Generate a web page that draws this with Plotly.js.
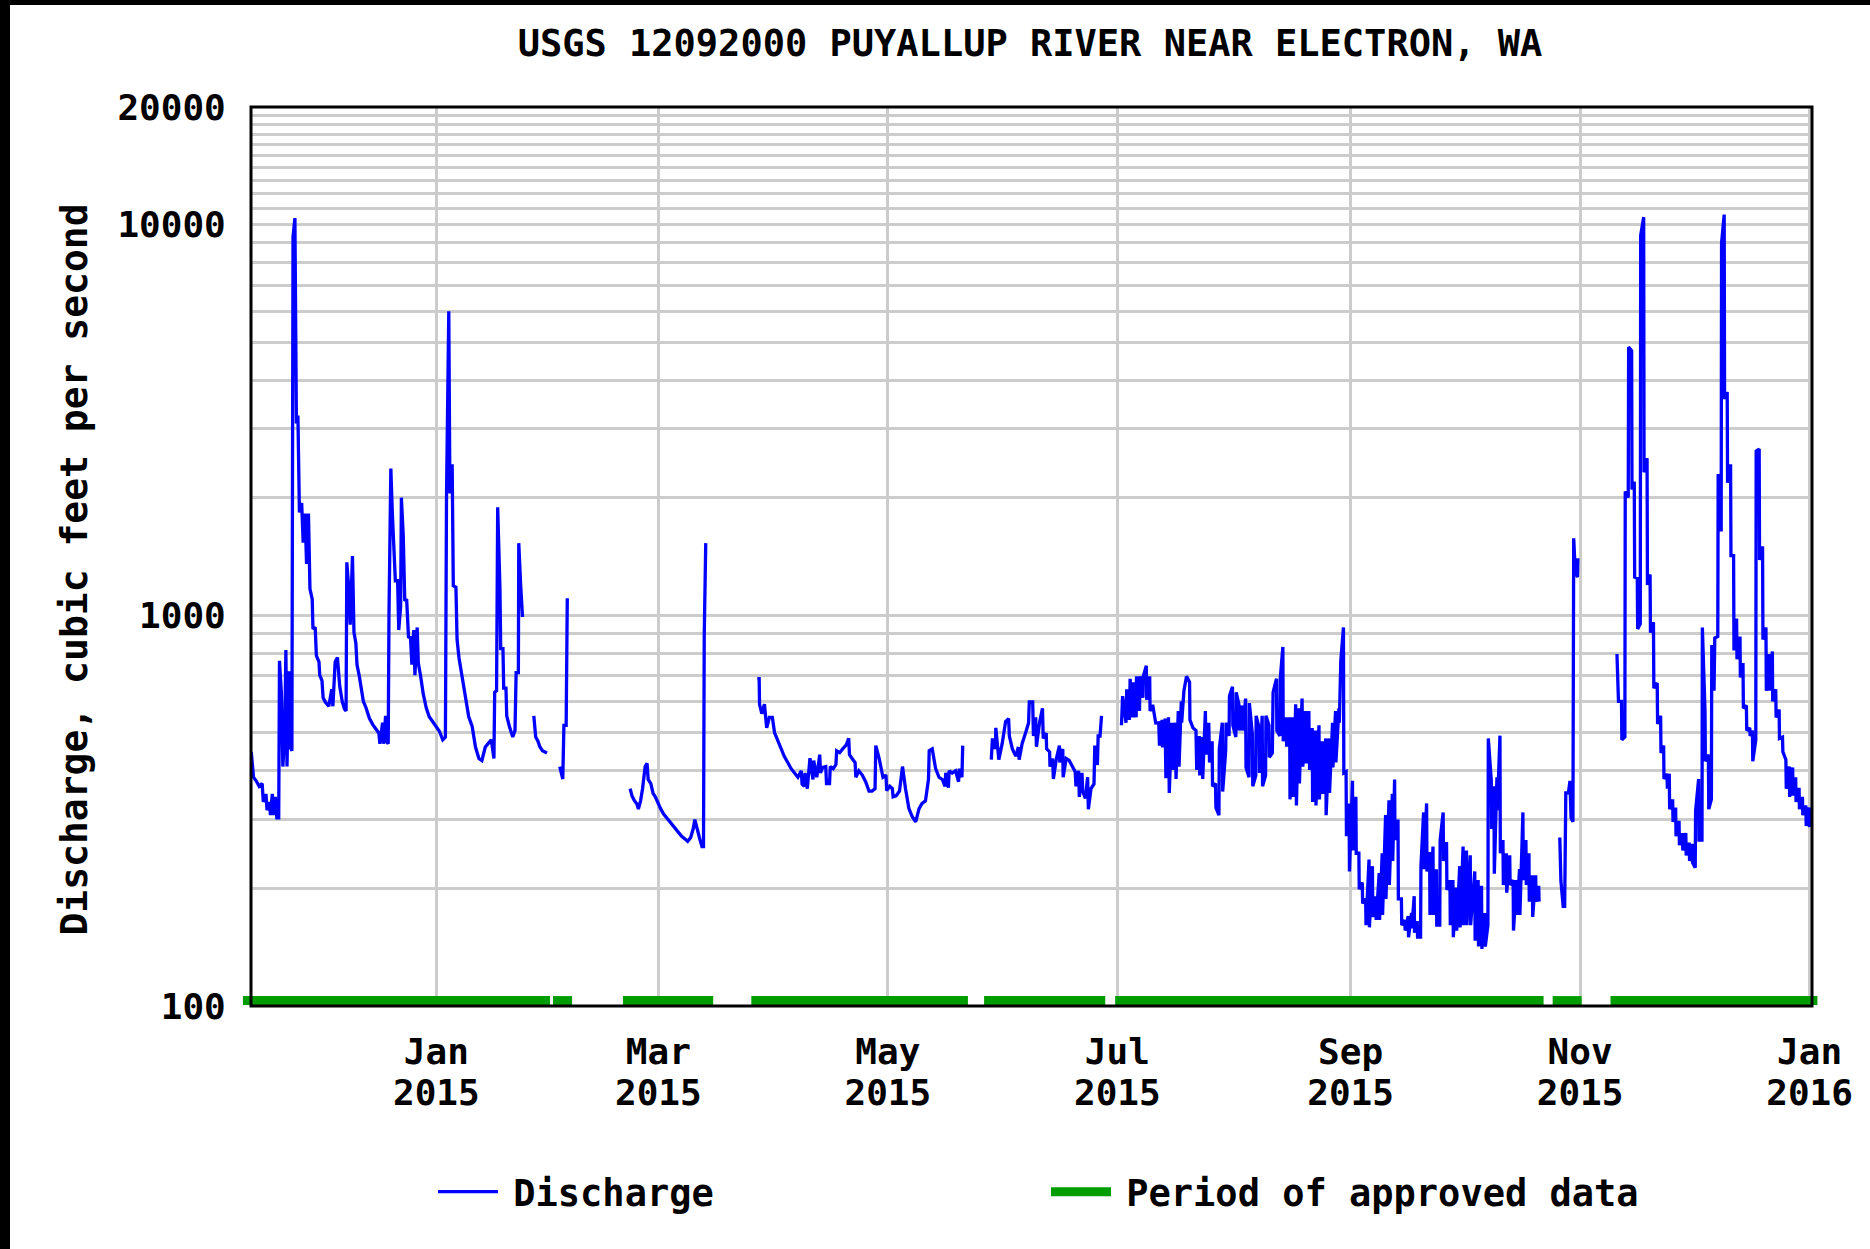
<!DOCTYPE html>
<html>
<head>
<meta charset="utf-8">
<script src="https://cdn.plot.ly/plotly-3.0.1.min.js"></script>
<style>
html, body { margin:0; padding:0; background:#000; overflow:hidden; width:1870px; height:1249px; }
#frame { position:absolute; left:10px; top:5px; width:1860px; height:1244px; background:#fff; }
#chart { width:1860px; height:1244px; }
</style>
</head>
<body>
<div id="frame"><div id="chart"></div></div>
<script>
// ---------- DATA (day offset from 2015-01-01, discharge in cubic feet per second) ----------
const segNovJan = [[-49.2,447],[-48.6,385],[-47.9,377],[-47.1,365],[-46.3,371],[-46.0,333],[-45.3,349],[-45.0,317],
 [-44.4,333],[-44.1,308],[-43.6,349],[-43.3,308],[-42.8,343],[-42.4,303],[-41.9,303],[-41.7,765],[-41.2,635],[-40.8,410],
 [-40.3,500],[-40.0,815],[-39.7,410],[-39.2,719],[-38.9,461],[-38.4,450],[-38.1,9287],[-37.6,10390],[-37.2,3096],
 [-36.8,3244],[-36.4,1833],[-35.8,1939],[-35.4,1535],[-34.9,1822],[-34.5,1354],[-34.0,1822],[-33.6,1169],[-33.0,1100],
 [-32.8,923],[-32.2,931],[-31.9,789],[-31.2,760],[-31.0,703],[-30.4,680],[-30.1,615],[-29.5,600],[-28.6,585],[-27.8,647],
 [-27.5,585],[-26.9,760],[-26.3,780],[-25.7,660],[-25.0,600],[-24.4,575],[-24.0,569],[-23.8,1367],[-23.3,1177],[-22.9,946],
 [-22.3,1419],[-21.9,903],[-21.4,850],[-21.1,748],[-20.5,700],[-19.9,640],[-19.4,602],[-18.7,580],[-17.8,545],[-16.9,525],
 [-16.0,510],[-15.3,500],[-15.0,469],[-14.3,531],[-14.0,469],[-13.5,553],[-13.2,476],[-12.8,469],[-12.6,988],[-12.1,2375],
 [-11.7,1822],[-11.2,1500],[-10.9,1226],[-10.3,1226],[-10.0,917],[-9.5,1050],[-9.3,2000],[-8.8,1593],[-8.4,1089],[-7.9,1100],
 [-7.4,875],[-6.9,883],[-6.5,748],[-6.0,917],[-5.7,703],[-5.1,931],[-4.8,755],[-4.2,700],[-3.5,630],[-2.7,580],[-1.9,550],
 [-1.0,535],[-0.1,520],[0.8,505],[1.7,480],[2.4,488],[2.7,2032],[3.3,6000],[3.6,2051],[4.2,2436],[4.5,1190],[5.2,1180],
 [5.5,867],[6.0,780],[6.8,700],[7.7,620],[8.6,550],[9.5,520],[10.4,460],[11.3,430],[12.1,425],[13.0,460],[13.8,470],
 [14.6,480],[15.3,430],[15.5,635],[16.0,641],[16.3,1891],[16.9,1169],[17.1,822],[17.7,822],[17.9,651],[18.5,651],[18.7,553],
 [19.4,520],[20.3,488],[20.9,507],[21.2,713],[21.8,713],[21.9,1530],[22.4,1196],[22.9,990]];
const segLateJan = [[25.9,553],[26.4,488],[27.0,476],[27.5,461],[28.2,450],[29.4,444]];
const segEarlyFeb = [[32.8,410],[33.1,395],[33.6,381],[33.9,523],[34.5,523],[34.8,1106]];
const segFebMar = [[51.5,360],[52.0,345],[52.6,336],[53.3,329],[53.7,319],[54.3,336],[54.8,360],[55.5,410],[56.0,418],
 [56.3,380],[57.0,371],[57.6,350],[58.2,343],[58.9,330],[59.6,320],[60.4,310],[61.2,303],[62.0,298],[62.8,290],[63.6,284],
 [64.4,278],[65.2,272],[66.0,268],[66.8,264],[67.6,270],[68.3,285],[68.7,300],[69.3,282],[70.0,268],[70.6,256],[71.0,256],
 [71.2,889],[71.6,1530]];
const segAprMay = [[85.3,688],[85.8,688],[85.9,592],[86.5,560],[87.2,592],[87.8,515],[88.5,548],[89.3,548],[89.9,500],
 [90.8,475],[91.6,455],[92.5,435],[93.4,420],[94.3,405],[95.2,395],[96.1,385],[97.0,400],[97.2,370],[97.8,365],[98.0,395],
 [98.6,360],[98.9,385],[99.3,431],[100.1,380],[100.3,425],[101.1,385],[101.9,440],[102.1,395],[102.7,408],[103.5,410],
 [103.7,371],[104.5,371],[104.7,410],[105.5,405],[106.2,415],[106.4,450],[107.2,445],[108.0,455],[108.9,465],[109.6,484],
 [109.8,440],[110.5,430],[111.3,420],[111.5,385],[112.3,400],[113.2,390],[114.1,375],[115.0,355],[115.8,355],[116.6,360],
 [116.8,464],[117.7,430],[118.7,385],[119.5,390],[119.7,356],[120.5,365],[121.2,360],[121.4,343],[122.2,345],[123.1,355],
 [123.9,410],[124.7,360],[125.6,320],[126.5,305],[127.4,296],[128.3,320],[129.1,330],[130.0,335],[130.8,380],[131.0,450],
 [131.8,455],[132.7,405],[133.6,385],[134.5,380],[135.2,365],[135.4,395],[136.1,362],[136.3,400],[137.1,395],[138.0,400],
 [138.8,375],[139.0,405],[139.7,385],[139.9,464]];
const segJune = [[147.5,427],[147.8,484],[148.6,455],[148.7,515],[149.5,427],[150.4,470],[151.3,535],[152.1,544],[152.3,491],
 [153.1,455],[154.0,436],[154.7,460],[154.9,427],[155.7,470],[156.6,500],[157.4,530],[157.6,600],[158.5,600],[158.7,491],
 [159.3,548],[159.5,461],[160.3,530],[161.1,578],[161.3,484],[162.1,500],[162.2,455],[163.0,447],[163.1,410],[163.8,430],
 [164.0,381],[164.8,430],[165.6,464],[165.7,420],[166.5,455],[166.6,385],[167.4,430],[168.2,425],[169.0,410],[169.8,398],
 [170.0,365],[170.7,400],[170.9,343],[171.6,395],[171.8,354],[172.5,340],[173.1,385],[173.3,319],[174.0,360],[174.8,370],
 [175.0,464],[175.7,414],[175.9,491],[176.4,491],[176.8,553]];
const segJulOct = [[182.1,523],[182.4,621],[183.3,531],[183.5,647],[184.2,540],[184.4,688],[185.1,548],[185.3,674],[186.0,548],
 [186.1,698],[186.9,569],[187.0,698],[187.8,615],[187.9,698],[188.7,743],[188.8,608],[189.6,698],[189.7,569],[190.4,590],
 [191.2,530],[192.0,531],[192.2,464],[192.9,540],[193.0,459],[193.7,544],[193.9,383],[194.6,548],[194.8,351],[195.5,531],
 [195.7,402],[196.4,531],[196.6,381],[197.2,569],[197.4,410],[198.0,602],[198.1,531],[198.7,641],[199.4,698],[200.2,674],
 [200.3,540],[201.1,515],[201.9,507],[202.1,402],[202.8,491],[202.9,389],[203.5,488],[203.7,381],[204.4,569],[204.6,440],
 [205.3,531],[205.5,420],[206.2,476],[206.3,365],[207.1,371],[207.2,322],[208.0,308],[208.1,455],[208.9,531],[209.0,354],
 [209.8,450],[209.9,531],[210.7,491],[210.8,621],[211.6,656],[211.7,523],[212.5,488],[212.6,635],[213.3,592],[213.4,507],
 [214.2,588],[214.3,507],[215.1,612],[215.2,408],[216.0,385],[216.1,596],[216.9,495],[217.0,365],[217.8,389],[217.9,553],
 [218.7,515],[218.8,395],[219.5,553],[219.6,365],[220.4,389],[220.5,553],[221.3,523],[221.4,433],[222.2,444],[222.4,635],
 [223.3,688],[223.4,507],[224.2,491],[224.3,688],[225.0,830],[225.1,476],[225.9,548],[226.0,461],[226.8,548],[226.9,338],
 [227.6,548],[227.8,343],[228.4,592],[228.6,326],[229.2,578],[229.4,371],[230.1,612],[230.3,410],[231.0,569],[231.2,418],
 [231.9,569],[232.1,402],[232.8,515],[232.9,333],[233.7,507],[233.8,326],[234.6,523],[234.7,338],[235.5,476],[235.6,349],
 [236.4,484],[236.5,308],[237.3,484],[237.4,351],[238.2,531],[238.3,408],[239.0,569],[239.1,420],[239.9,578],[240.0,531],
 [240.4,765],[241.1,931],[241.2,395],[241.8,398],[241.9,272],[242.6,330],[242.7,221],[243.5,377],[243.6,250],[244.4,343],
 [244.5,246],[245.2,246],[245.3,199],[246.1,207],[246.2,183],[247.0,188],[247.1,161],[247.9,237],[248.0,159],[248.8,228],
 [248.9,169],[249.7,191],[249.8,166],[250.6,219],[250.7,166],[251.4,246],[251.5,171],[252.3,308],[252.4,188],[253.2,336],
 [253.3,204],[254.1,349],[254.2,235],[254.7,380],[254.8,266],[255.6,300],[255.7,188],[256.5,188],[256.6,161],[257.4,166],
 [257.5,156],[258.3,170],[258.4,150],[259.2,173],[259.3,158],[259.9,191],[260.0,154],[260.7,165],[260.8,150],[261.6,150],
 [261.7,228],[262.4,313],[262.5,224],[263.2,330],[263.3,221],[264.0,248],[264.1,171],[264.9,256],[265.0,171],[265.8,224],
 [265.9,161],[266.7,161],[266.8,266],[267.6,313],[267.7,235],[268.5,263],[268.6,198],[269.4,210],[269.5,161],[270.2,210],
 [270.3,150],[271.1,201],[271.2,156],[272.0,228],[272.1,159],[272.9,256],[273.0,161],[273.8,250],[273.9,161],[274.8,243],
 [274.9,161],[276.0,221],[276.1,147],[276.9,210],[277.0,142],[277.8,203],[277.9,140],[278.7,173],[278.8,142],[279.5,161],
 [279.6,484],[280.4,377],[280.5,284],[281.1,365],[281.2,218],[281.9,385],[282.0,317],[282.7,492],[282.8,246],[283.5,266],
 [283.6,204],[284.4,246],[284.5,195],[285.3,243],[285.4,204],[286.2,210],[286.3,156],[287.1,210],[287.2,171],[287.9,224],
 [288.0,171],[288.8,313],[288.9,210],[289.6,266],[289.7,204],[290.4,246],[290.5,185],[291.3,216],[291.4,169],[292.2,216],
 [292.3,185],[293.0,203],[293.1,185]];
const segLateOct = [[298.6,270],[298.9,209],[299.5,180],[299.9,180],[300.2,351],[300.9,351],[301.3,377],[301.6,303],
 [302.1,296],[302.3,1575],[302.7,1300],[303.3,1252],[303.4,1399]];
const segNovDec = [[313.8,796],[314.2,602],[315.0,602],[315.1,480],[315.9,488],[316.0,2075],[316.8,2001],[316.9,4862],
 [317.7,4754],[317.8,2098],[318.4,2197],[318.5,1252],[319.2,1244],[319.3,923],[320.0,951],[320.1,9381],[320.9,10450],
 [321.0,2323],[321.8,2525],[321.9,1196],[322.6,1272],[322.7,903],[323.5,960],[323.6,651],[324.5,671],[324.6,527],[325.4,553],
 [325.5,444],[326.2,464],[326.3,381],[327.1,393],[327.2,360],[327.7,393],[327.8,319],[328.6,338],[328.7,296],[329.4,322],
 [329.5,272],[330.3,298],[330.4,258],[331.2,277],[331.3,250],[332.1,277],[332.2,243],[333.0,262],[333.1,235],[333.8,260],
 [333.9,233],[334.6,226],[334.7,316],[335.5,381],[335.6,266],[336.4,266],[336.5,931],[337.2,569],[337.3,423],[338.1,440],
 [338.2,319],[338.9,338],[339.0,840],[339.6,641],[339.8,875],[340.6,883],[340.7,2301],[341.5,1639],[341.6,8969],[342.3,10610],
 [342.4,3580],[343.1,3728],[343.2,2184],[344.0,2436],[344.1,1421],[344.8,1421],[344.9,813],[345.6,981],[345.7,772],[346.5,883],
 [346.6,693],[347.3,755],[347.4,578],[348.2,588],[348.3,507],[349.1,515],[349.2,491],[349.8,507],[349.9,423],[350.7,480],
 [350.8,2632],[351.6,2665],[351.7,1386],[352.5,1502],[352.6,867],[353.4,931],[353.5,641],[354.3,796],[354.4,641],[355.1,808],
 [355.2,602],[356.0,647],[356.1,548],[356.9,574],[357.0,484],[357.8,488],[357.9,447],[358.7,427],[358.8,360],[359.6,410],
 [359.7,343],[360.5,408],[360.6,346],[361.3,385],[361.4,333],[362.2,362],[362.3,319],[363.1,343],[363.2,308],[364.0,326],
 [364.1,289],[364.9,322],[365.0,287]];

// Periods of approved data
const approvedStart = ['2014-11-10 14:00','2015-02-01 00:00','2015-02-19 14:00','2015-03-25 17:00','2015-05-26 14:00','2015-06-30 10:00','2015-10-24 17:00','2015-11-09 02:00'];
const approvedEnd   = ['2015-01-31 05:00','2015-02-06 02:00','2015-03-15 14:00','2015-05-22 07:00','2015-06-27 19:00','2015-10-22 07:00','2015-11-01 10:00','2016-01-03 02:00'];

// Axis ticks
const xTickDates  = ['2015-01-01','2015-03-01','2015-05-01','2015-07-01','2015-09-01','2015-11-01','2016-01-01'];
const xTickMonths = ['Jan','Mar','May','Jul','Sep','Nov','Jan'];
const xTickYears  = ['2015','2015','2015','2015','2015','2015','2016'];
const yGridValues = [100,200,300,400,500,600,700,800,900,1000,2000,3000,4000,5000,6000,7000,8000,9000,
                     10000,11000,12000,13000,14000,15000,16000,17000,18000,19000,20000];
const yLabelValues = [100, 1000, 10000, 20000];
const xRangeDays = [-49.27, 365.64];   // shown time span, days from 2015-01-01

const titleText = 'USGS 12092000 PUYALLUP RIVER NEAR ELECTRON, WA';
const yTitleText = 'Discharge, cubic feet per second';

// ---------- BUILD ----------
const DAY_MS = 86400000;
const DAY0 = Date.UTC(2015, 0, 1);
function msToDate(ms) { return new Date(ms).toISOString().slice(0, 19).replace('T', ' '); }
function dayToDate(d) { return msToDate(DAY0 + d * DAY_MS); }

const flowX = [], flowY = [];
[segNovJan, segLateJan, segEarlyFeb, segFebMar, segAprMay, segJune, segJulOct, segLateOct, segNovDec].forEach((seg, i) => {
  if (i) { flowX.push(null); flowY.push(null); }
  seg.forEach(([d, v]) => { flowX.push(dayToDate(d)); flowY.push(v); });
});

// geometry of the frame (pixels)
const W = 1860, H = 1244;
const M = { l: 232, r: 52, t: 102, b: 243 };
const padL = 9, padR = 6;                 // the approved-data band runs slightly past the frame
const paperW = W - M.l - M.r;
const plotW = paperW - padL - padR;
const plotH = H - M.t - M.b;

const r0 = DAY0 + xRangeDays[0] * DAY_MS, r1 = DAY0 + xRangeDays[1] * DAY_MS;
const msPerPx = (r1 - r0) / plotW;
const mainRange = [msToDate(r0), msToDate(r1)];
const bandRange = [msToDate(r0 - padL * msPerPx), msToDate(r1 + padR * msPerPx)];

const yMin = 2, yMax = Math.log10(20000);
const bandLiftPx = 5.4;
const bandY = Math.pow(10, yMin + bandLiftPx * (yMax - yMin) / plotH);
const apprX = [], apprY = [];
approvedStart.forEach((s, i) => {
  if (i) { apprX.push(null); apprY.push(null); }
  apprX.push(s, approvedEnd[i]); apprY.push(bandY, bandY);
});

const FONT = 'DejaVu Sans Mono';
const tf = (size) => ({ family: FONT, size: size, color: '#000000', weight: 'bold' });
const gap = '<span style="font-size:17px">\u00A0</span>';
const traces = [
  { x: flowX, y: flowY, type: 'scatter', mode: 'lines', name: gap + 'Discharge',
    xaxis: 'x', yaxis: 'y', line: { color: '#0000ff', width: 3.3 }, connectgaps: false, hoverinfo: 'skip' },
  { x: apprX, y: apprY, type: 'scatter', mode: 'lines', name: gap + 'Period of approved data',
    xaxis: 'x2', yaxis: 'y2', line: { color: '#009c00', width: 9 }, connectgaps: false, hoverinfo: 'skip' },
  { x: [], y: [], type: 'scatter', mode: 'lines', xaxis: 'x3', yaxis: 'y', showlegend: false, hoverinfo: 'skip' }
];

const layout = {
  width: W, height: H,
  margin: { l: M.l, r: M.r, t: M.t, b: M.b, pad: 0 },
  paper_bgcolor: '#ffffff', plot_bgcolor: 'rgba(0,0,0,0)',
  font: tf(36),
  title: { text: titleText, x: 0.5, xref: 'paper', xanchor: 'center',
           y: 1 - 38.5 / H, yref: 'container', yanchor: 'middle', font: tf(37) },
  showlegend: true,
  legend: { orientation: 'h', x: (423 - M.l) / paperW, xanchor: 'left', y: -0.207, yanchor: 'middle',
            font: tf(37), itemwidth: 60, entrywidth: 538, entrywidthmode: 'pixels',
            bgcolor: 'rgba(0,0,0,0)', borderwidth: 0 },
  xaxis: { type: 'date', domain: [padL / paperW, 1 - padR / paperW], anchor: 'y',
           range: mainRange, tickmode: 'array', tickvals: xTickDates, ticktext: xTickMonths,
           showgrid: true, gridcolor: '#cccccc', gridwidth: 3, zeroline: false, showline: false,
           ticks: 'outside', ticklen: 14, tickcolor: 'rgba(0,0,0,0)', tickfont: tf(36), fixedrange: true },
  xaxis3: { type: 'date', anchor: 'y', overlaying: 'x', side: 'bottom',
            range: mainRange, tickmode: 'array', tickvals: xTickDates, ticktext: xTickYears,
            showgrid: false, zeroline: false, showline: false,
            ticks: 'outside', ticklen: 55, tickcolor: 'rgba(0,0,0,0)', tickfont: tf(36), fixedrange: true },
  xaxis2: { type: 'date', domain: [0, 1], anchor: 'y2', range: bandRange, visible: false, fixedrange: true },
  yaxis2: { type: 'log', domain: [0, 1], anchor: 'x2', range: [yMin, yMax], visible: false, fixedrange: true },
  yaxis: { type: 'log', range: [yMin, yMax], anchor: 'x',
           tickmode: 'array', tickvals: yGridValues,
           ticktext: yGridValues.map(v => yLabelValues.includes(v) ? String(v) : ''),
           showgrid: true, gridcolor: '#cccccc', gridwidth: 3, zeroline: false, showline: false,
           ticks: 'outside', ticklen: 17, tickcolor: 'rgba(0,0,0,0)', tickfont: tf(36),
           fixedrange: true },
  annotations: [{ text: yTitleText, textangle: -90, xref: 'paper', yref: 'paper',
                  x: (64 - M.l) / paperW, y: 0.4855, xanchor: 'center', yanchor: 'middle',
                  showarrow: false, font: tf(38) }],
  shapes: [{ type: 'rect', xref: 'x domain', yref: 'y domain', x0: 0, x1: 1, y0: 0, y1: 1,
             line: { color: '#000000', width: 3 }, fillcolor: 'rgba(0,0,0,0)', layer: 'above' }]
};

Plotly.newPlot('chart', traces, layout, { staticPlot: true, displayModeBar: false });
</script>
</body>
</html>
